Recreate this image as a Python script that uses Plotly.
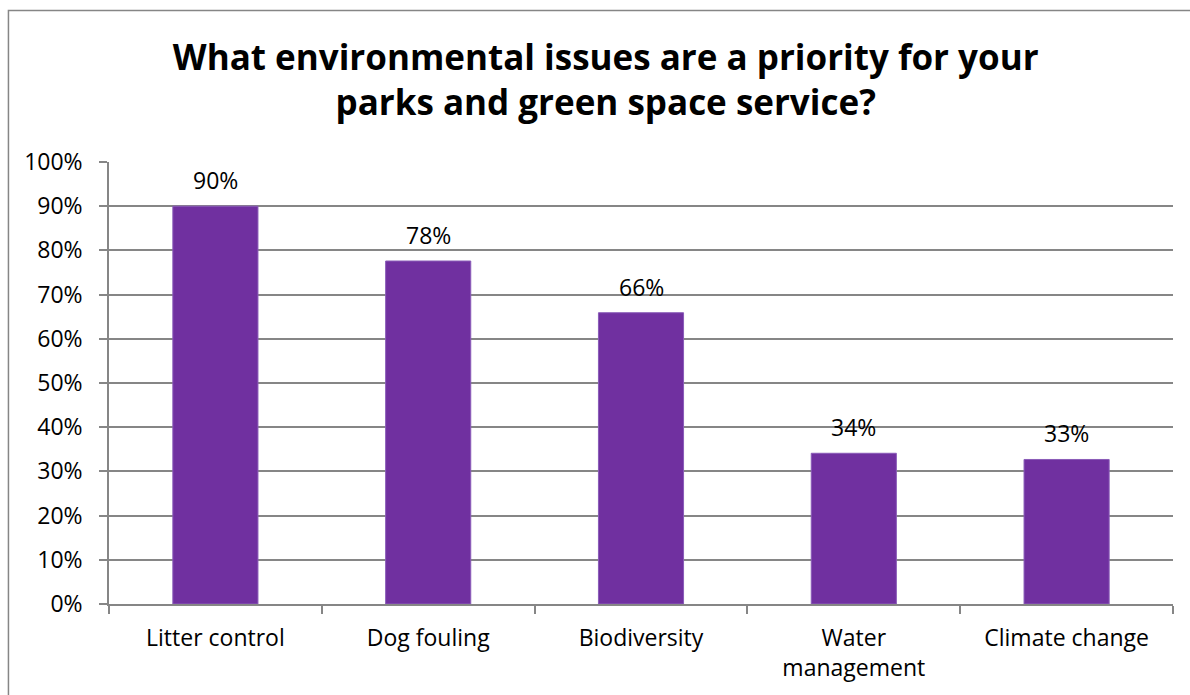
import plotly.graph_objects as go

# Survey results: share of respondents naming each issue as a priority
categories = ["Litter control", "Dog fouling", "Biodiversity", "Water<br>management", "Climate change"]
shares = [0.900, 0.776, 0.659, 0.341, 0.327]
y_ticks = [0, 0.1, 0.2, 0.3, 0.4, 0.5, 0.6, 0.7, 0.8, 0.9, 1.0]
y_tick_labels = ["0%", "10%", "20%", "30%", "40%", "50%", "60%", "70%", "80%", "90%", "100%"]
title_text = "What environmental issues are a priority for your<br>parks and green space service?"

FONT = "Open Sans"
GREY = "#868686"
PURPLE = "#7030A0"
TICK_SIZE = 23

fig = go.Figure()
fig.add_trace(go.Bar(
    x=categories,
    y=shares,
    marker=dict(color=PURPLE, line=dict(color="#8a5cb8", width=1)),
    width=0.4,
    hoverinfo="skip",
))

# Value labels sitting above each bar
for cat, val in zip(categories, shares):
    fig.add_annotation(
        x=cat, y=val, xref="x", yref="y",
        text=f"{round(val * 100):.0f}%",
        showarrow=False, yanchor="bottom", yshift=8,
        font=dict(family=FONT, size=TICK_SIZE, color="#000000"),
    )

# Outer chart frame
fig.add_shape(
    type="rect", xref="paper", yref="paper",
    x0=-0.0945, x1=1.05, y0=-0.5, y1=1.3425,
    line=dict(color=GREY, width=1.5), fillcolor="rgba(0,0,0,0)", layer="below",
)

fig.update_layout(
    width=1190, height=695,
    margin=dict(l=109, r=17, t=162, b=91),
    paper_bgcolor="white", plot_bgcolor="white",
    showlegend=False,
    title=dict(
        text=title_text, x=0.509, xanchor="center", xref="container",
        y=0.9, yanchor="middle", yref="container",
        font=dict(family=FONT, size=35, color="#000000", weight="bold"),
    ),
    font=dict(family=FONT, size=TICK_SIZE, color="#000000"),
    xaxis=dict(
        showline=True, linecolor=GREY, linewidth=1.5,
        ticks="outside", tickson="boundaries", ticklen=8, tickcolor=GREY, tickwidth=1.5,
        showgrid=False, tickfont=dict(family=FONT, size=TICK_SIZE, color="#000000"),
        ticklabelstandoff=13,
        range=[-0.5, 4.5],
    ),
    yaxis=dict(
        range=[0, 1.0], tickvals=y_ticks, ticktext=y_tick_labels,
        showline=True, linecolor=GREY, linewidth=1.5,
        ticks="outside", ticklen=8, tickcolor=GREY, tickwidth=1.5,
        showgrid=True, gridcolor=GREY, gridwidth=1.5,
        zeroline=False, tickfont=dict(family=FONT, size=TICK_SIZE, color="#000000"),
        ticklabelstandoff=12,
    ),
)

fig.write_html("out.html")
